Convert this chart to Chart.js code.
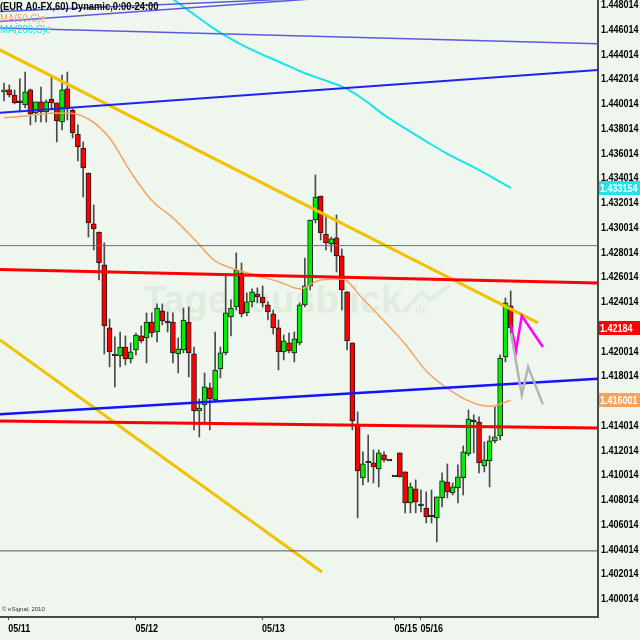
<!DOCTYPE html>
<html>
<head>
<meta charset="utf-8">
<script src="https://cdn.jsdelivr.net/npm/chart.js@4.4.0/dist/chart.umd.min.js"></script>
<style>
  html, body { margin: 0; padding: 0; background: #eef6ee; }
  canvas { display: block; }
</style>
</head>
<body>
<canvas id="chart" width="640" height="640"></canvas>
<script>
// EUR A0-FX, 60 min, 11.-16.05.2010
const candleOpen = [
  1.44091, 1.44107, 1.44066, 1.44012, 1.43986, 1.44107, 1.43921, 1.44010, 1.43929, 1.44034,
  1.44002, 1.43848, 1.44115, 1.43945, 1.43751, 1.43638, 1.43436, 1.43024, 1.42959, 1.42693,
  1.42184, 1.41966, 1.41958, 1.42030, 1.41933, 1.42006, 1.42119, 1.42103, 1.42232, 1.42151,
  1.42321, 1.42232, 1.42232, 1.41974, 1.42006, 1.42232, 1.41974, 1.41513, 1.41562, 1.41699,
  1.41602, 1.41852, 1.41982, 1.42273, 1.42353, 1.42628, 1.42305, 1.42394, 1.42458, 1.42434,
  1.42370, 1.42297, 1.42184, 1.41990, 1.42063, 1.41982, 1.42063, 1.42370, 1.42523, 1.43056,
  1.43250, 1.42943, 1.42862, 1.42911, 1.42766, 1.42475, 1.42063, 1.41400, 1.40972, 1.41101,
  1.41093, 1.41044, 1.41158, 1.41117, 1.40988, 1.41174, 1.41020, 1.40770, 1.40883, 1.40754,
  1.40729, 1.40665, 1.40649, 1.40810, 1.40939, 1.40851, 1.40891, 1.40972, 1.41166, 1.41432,
  1.41424, 1.41069, 1.41109, 1.41271, 1.41311, 1.41949, 1.42362
];
const candleHigh = [
  1.44163, 1.44147, 1.44107, 1.44196, 1.44252, 1.44115, 1.44010, 1.44131, 1.44026, 1.44228,
  1.44002, 1.44228, 1.44252, 1.43953, 1.43824, 1.43687, 1.43436, 1.43178, 1.42959, 1.42871,
  1.42256, 1.42111, 1.42151, 1.42119, 1.42063, 1.42143, 1.42200, 1.42305, 1.42305, 1.42378,
  1.42378, 1.42313, 1.42305, 1.42103, 1.42345, 1.42353, 1.42030, 1.41610, 1.41820, 1.41739,
  1.42151, 1.42030, 1.42612, 1.42410, 1.42790, 1.42709, 1.42467, 1.42499, 1.42507, 1.42523,
  1.42394, 1.42329, 1.42248, 1.42127, 1.42143, 1.42151, 1.42386, 1.42749, 1.43056, 1.43420,
  1.43250, 1.43097, 1.42919, 1.43097, 1.42822, 1.42475, 1.42063, 1.41505, 1.41182, 1.41319,
  1.41198, 1.41198, 1.41182, 1.41117, 1.40988, 1.41174, 1.41020, 1.40931, 1.40956, 1.40875,
  1.40859, 1.40875, 1.40818, 1.41012, 1.41085, 1.40931, 1.41077, 1.41230, 1.41521, 1.41481,
  1.41465, 1.41263, 1.41311, 1.41545, 1.41966, 1.42426, 1.42483
];
const candleLow = [
  1.44018, 1.44050, 1.43994, 1.43929, 1.43961, 1.43824, 1.43848, 1.43848, 1.43848, 1.43945,
  1.43687, 1.43784, 1.43864, 1.43719, 1.43533, 1.43242, 1.42919, 1.42814, 1.42572, 1.41974,
  1.41869, 1.41707, 1.41869, 1.41885, 1.41901, 1.41966, 1.42063, 1.41901, 1.42111, 1.42071,
  1.42208, 1.42151, 1.41901, 1.41820, 1.41982, 1.41788, 1.41360, 1.41303, 1.41408, 1.41360,
  1.41586, 1.41780, 1.41966, 1.42119, 1.42329, 1.42273, 1.42281, 1.42353, 1.42386, 1.42353,
  1.42248, 1.42135, 1.41844, 1.41925, 1.41982, 1.41909, 1.42046, 1.42353, 1.42491, 1.43032,
  1.42895, 1.42814, 1.42798, 1.42636, 1.42329, 1.42006, 1.41360, 1.40649, 1.40915, 1.40939,
  1.40931, 1.40899, 1.41101, 1.41117, 1.40988, 1.40980, 1.40689, 1.40689, 1.40689, 1.40697,
  1.40608, 1.40608, 1.40455, 1.40737, 1.40810, 1.40834, 1.40770, 1.40834, 1.41150, 1.41174,
  1.41012, 1.41020, 1.40899, 1.41255, 1.41279, 1.41909, 1.42143
];
const candleClose = [
  1.44107, 1.44066, 1.44002, 1.44012, 1.44091, 1.43913, 1.44010, 1.43929, 1.44010, 1.44002,
  1.43856, 1.44107, 1.43953, 1.43759, 1.43646, 1.43477, 1.43032, 1.42984, 1.42709, 1.42200,
  1.41990, 1.41966, 1.42030, 1.41933, 1.41990, 1.42127, 1.42079, 1.42232, 1.42143, 1.42345,
  1.42240, 1.42232, 1.41982, 1.42014, 1.42248, 1.41982, 1.41513, 1.41537, 1.41707, 1.41610,
  1.41844, 1.41982, 1.42305, 1.42345, 1.42652, 1.42297, 1.42394, 1.42475, 1.42434, 1.42386,
  1.42313, 1.42184, 1.41990, 1.42079, 1.41998, 1.42095, 1.42370, 1.42523, 1.43056, 1.43242,
  1.42951, 1.42871, 1.42903, 1.42766, 1.42491, 1.42079, 1.41432, 1.41028, 1.41085, 1.41101,
  1.41061, 1.41174, 1.41117, 1.41117, 1.40988, 1.40980, 1.40770, 1.40899, 1.40778, 1.40754,
  1.40657, 1.40665, 1.40818, 1.40948, 1.40859, 1.40899, 1.40980, 1.41182, 1.41448, 1.41432,
  1.41093, 1.41117, 1.41271, 1.41303, 1.41941, 1.42386, 1.42184
];

// Achsen
const dayTickPos = [0.8, 24.9, 48.9, 74.0, 78.9];
const dayLabels = ['05/11', '05/12', '05/13', '05/15', '05/16'];
const yTicks = [
  1.400014, 1.402014, 1.404014, 1.406014, 1.408014, 1.410014, 1.412014, 1.414014, 1.416014,
  1.418014, 1.420014, 1.422014, 1.424014, 1.426014, 1.428014, 1.430014, 1.432014, 1.434014,
  1.436014, 1.438014, 1.440014, 1.442014, 1.444014, 1.446014, 1.448014
];

// Gleitende Durchschnitte
const ma50Idx = [0, 4, 8, 12, 16, 20, 24, 28, 32, 36, 40, 44, 48, 52, 56, 60, 64, 68, 72, 76, 80, 84, 88, 92, 96];
const ma50 = [
  1.43881, 1.43897, 1.43917, 1.43921, 1.43872, 1.43719, 1.43444, 1.43214, 1.43073, 1.42903,
  1.42725, 1.42656, 1.42604, 1.42559, 1.42500, 1.42572, 1.42580, 1.42418, 1.42240, 1.42054,
  1.41836, 1.41695, 1.41594, 1.41550, 1.416001
];
const ma200Idx = [28, 32, 36, 40, 44, 48, 52, 56, 60, 64, 68, 72, 76, 80, 84, 88, 92, 96];
const ma200 = [
  1.44979, 1.44842, 1.44717, 1.44596, 1.44495, 1.44410, 1.44337, 1.44260, 1.44196, 1.44135,
  1.44034, 1.43905, 1.43796, 1.43691, 1.43590, 1.43505, 1.43412, 1.433154
];

// Trendlinien (Index, Kurs)
const edgeX = [-0.76, 112.54];
const grayHighY = [1.42849, 1.42849];
const grayLowY = [1.40382, 1.40382];
const redHighY = [1.42656, 1.42547];
const redLowY = [1.41432, 1.41376];
const blueLowY = [1.41487, 1.41773];
const blueHighY = [1.43923, 1.44268];
const blueThinY = [1.44608, 1.44481];
const blueTopAX = [-0.76, 60];
const blueTopAY = [1.44659, 1.44847];
const blueTopBX = [-0.76, 56];
const blueTopBY = [1.44740, 1.44844];
const yellowAX = [-0.76, 101.18];
const yellowAY = [1.44430, 1.42224];
const yellowBX = [-0.76, 60.25];
const yellowBY = [1.42087, 1.40212];
// Projektionen
const magentaX = [96.06, 97.0, 98.1, 102.1];
const magentaY = [1.42208, 1.41998, 1.42281, 1.42030];
const grayZigX = [96.06, 98.1, 99.3, 102.1];
const grayZigY = [1.42143, 1.41642, 1.41869, 1.41566];

const FONT = "'Liberation Sans', Arial, sans-serif";
const SQUEEZE = 0.82; // schmale Schrift nachbilden

function seg(xs, ys) {
  return xs.map((x, k) => ({ x: x, y: ys[k] }));
}

function lineSet(data, color, width, extra) {
  return Object.assign({
    type: 'line', data: data, borderColor: color, borderWidth: width,
    pointRadius: 0, fill: false, tension: 0, order: 1
  }, extra || {});
}

function narrowText(ctx, text, x, y, sx) {
  ctx.save();
  ctx.translate(x, y);
  ctx.scale(sx || SQUEEZE, 1);
  ctx.fillText(text, 0, 0);
  ctx.restore();
}

// Kerzen
const wickData = candleHigh.map((h, i) => ({ x: i, y: [candleLow[i], h] }));
const bodyData = candleOpen.map((o, i) => {
  const c = candleClose[i];
  // Doji als kurzer Strich
  return { x: i, y: o === c ? [o - 0.00007, o + 0.00007] : [o, c] };
});
const bodyColor = candleOpen.map((o, i) => {
  if (candleClose[i] > o) return '#00ee00';
  if (candleClose[i] < o) return '#ff0000';
  return '#1c3a1c';
});

const datasets = [
  lineSet(seg(grayZigX, grayZigY), '#b4b4b4', 2.5, { order: 0 }),
  lineSet(seg(magentaX, magentaY), '#ff00ff', 2.5, { order: 0 }),
  lineSet(seg(edgeX, grayHighY), '#707070', 1),
  lineSet(seg(edgeX, grayLowY), '#555555', 1),
  lineSet(seg(edgeX, redHighY), '#ff0000', 3),
  lineSet(seg(edgeX, redLowY), '#ff0000', 3),
  lineSet(seg(edgeX, blueLowY), '#1414ff', 2.5),
  lineSet(seg(edgeX, blueHighY), '#2222ee', 2),
  lineSet(seg(edgeX, blueThinY), '#5a5ae0', 1.5),
  lineSet(seg(blueTopAX, blueTopAY), '#5a5ae0', 1.5),
  lineSet(seg(blueTopBX, blueTopBY), '#5a5ae0', 1.5),
  lineSet(seg(yellowAX, yellowAY), '#f2c200', 3),
  lineSet(seg(yellowBX, yellowBY), '#f2c200', 3),
  lineSet(seg(ma50Idx, ma50), '#f4a460', 1.5, { cubicInterpolationMode: 'monotone' }),
  lineSet(seg(ma200Idx, ma200), '#16e4ea', 2, { cubicInterpolationMode: 'monotone' }),
  {
    type: 'bar', data: bodyData, backgroundColor: bodyColor, borderColor: '#1a1a1a',
    borderWidth: 1, borderSkipped: false, barThickness: 5, grouped: false, order: 2
  },
  {
    type: 'bar', data: wickData, backgroundColor: '#4a4a4a', borderWidth: 0,
    barThickness: 1, grouped: false, order: 3
  }
];

// Wasserzeichen, Titel, Achsentexte, Kursfahnen
const decor = {
  id: 'decor',
  beforeDatasetsDraw(chart) {
    const ctx = chart.ctx;
    ctx.save();
    ctx.fillStyle = 'rgba(175, 205, 175, 0.22)';
    ctx.font = "bold 38px 'Liberation Sans', sans-serif";
    ctx.textBaseline = 'alphabetic';
    ctx.fillText('Tagesausblick', 143, 313);
    ctx.font = "bold 11px 'Liberation Sans', sans-serif";
    ctx.fillText('de', 415, 313);
    ctx.strokeStyle = 'rgba(175, 205, 175, 0.22)';
    ctx.lineWidth = 4;
    ctx.beginPath();
    ctx.moveTo(404, 312);
    ctx.lineTo(422, 292);
    ctx.lineTo(430, 300);
    ctx.lineTo(450, 285);
    ctx.stroke();
    ctx.restore();
  },
  afterDraw(chart) {
    const ctx = chart.ctx;
    const xs = chart.scales.x;
    const ys = chart.scales.y;
    ctx.save();
    ctx.textAlign = 'left';

    // Kursachse
    ctx.fillStyle = '#000000';
    ctx.font = 'bold 11px ' + FONT;
    ctx.textBaseline = 'middle';
    yTicks.forEach(v => {
      const py = Math.max(ys.getPixelForValue(v), 4);
      narrowText(ctx, v.toFixed(6), 601, py + 1);
    });

    // Zeitachse
    ctx.textBaseline = 'top';
    dayTickPos.forEach((v, k) => {
      narrowText(ctx, dayLabels[k], xs.getPixelForValue(v), 623);
    });

    // Titel und Legende
    narrowText(ctx, '(EUR A0-FX,60) Dynamic,0:00-24:00', 0, 1, 0.85);
    ctx.font = '11px ' + FONT;
    ctx.fillStyle = '#f4a460';
    narrowText(ctx, 'MA(50,C)e', 0, 13, 0.86);
    ctx.fillStyle = '#16e4ea';
    narrowText(ctx, 'MA(200,C)e', 0, 24, 0.86);

    ctx.font = '6px ' + FONT;
    ctx.fillStyle = '#333333';
    ctx.fillText('\u00a9 eSignal, 2010', 2, 606);

    // Kursfahnen
    const tags = [
      [ma200[ma200.length - 1], '#22e4e8', ma200[ma200.length - 1].toFixed(6)],
      [candleClose[candleClose.length - 1], '#ff0000', String(candleClose[candleClose.length - 1])],
      [ma50[ma50.length - 1], '#f4a460', ma50[ma50.length - 1].toFixed(6)]
    ];
    ctx.font = 'bold 11px ' + FONT;
    ctx.textBaseline = 'middle';
    tags.forEach(t => {
      const py = ys.getPixelForValue(t[0]);
      ctx.fillStyle = t[1];
      ctx.fillRect(599, Math.round(py) - 7, 41, 14);
      ctx.fillStyle = '#ffffff';
      narrowText(ctx, t[2], 600, py + 1);
    });
    ctx.restore();
  }
};

new Chart(document.getElementById('chart'), {
  type: 'line',
  data: { datasets: datasets },
  options: {
    responsive: false,
    animation: false,
    devicePixelRatio: 1,
    layout: { padding: 0 },
    plugins: { legend: { display: false }, tooltip: { enabled: false } },
    scales: {
      x: {
        type: 'linear', position: 'bottom', min: -0.76, max: 112.54, offset: false,
        grid: { display: true, drawOnChartArea: false, drawTicks: true, tickLength: 3, color: '#4a4a4a', offset: false },
        border: { display: true, color: '#4a4a4a', width: 2 },
        ticks: { display: false, autoSkip: false, maxRotation: 0 },
        afterBuildTicks: s => { s.ticks = dayTickPos.map(v => ({ value: v })); },
        afterFit: s => { s.height = 23; s.paddingLeft = 0; s.paddingRight = 0; }
      },
      y: {
        type: 'linear', position: 'right', min: 1.398479, max: 1.448337, beginAtZero: false,
        grid: { display: true, drawOnChartArea: false, drawTicks: false, color: '#4a4a4a' },
        border: { display: true, color: '#4a4a4a', width: 2 },
        ticks: { display: false, autoSkip: false },
        afterBuildTicks: s => { s.ticks = yTicks.map(v => ({ value: v })); },
        afterFit: s => { s.width = 42; s.paddingTop = 0; s.paddingBottom = 0; }
      }
    }
  },
  plugins: [decor]
});
</script>
</body>
</html>
